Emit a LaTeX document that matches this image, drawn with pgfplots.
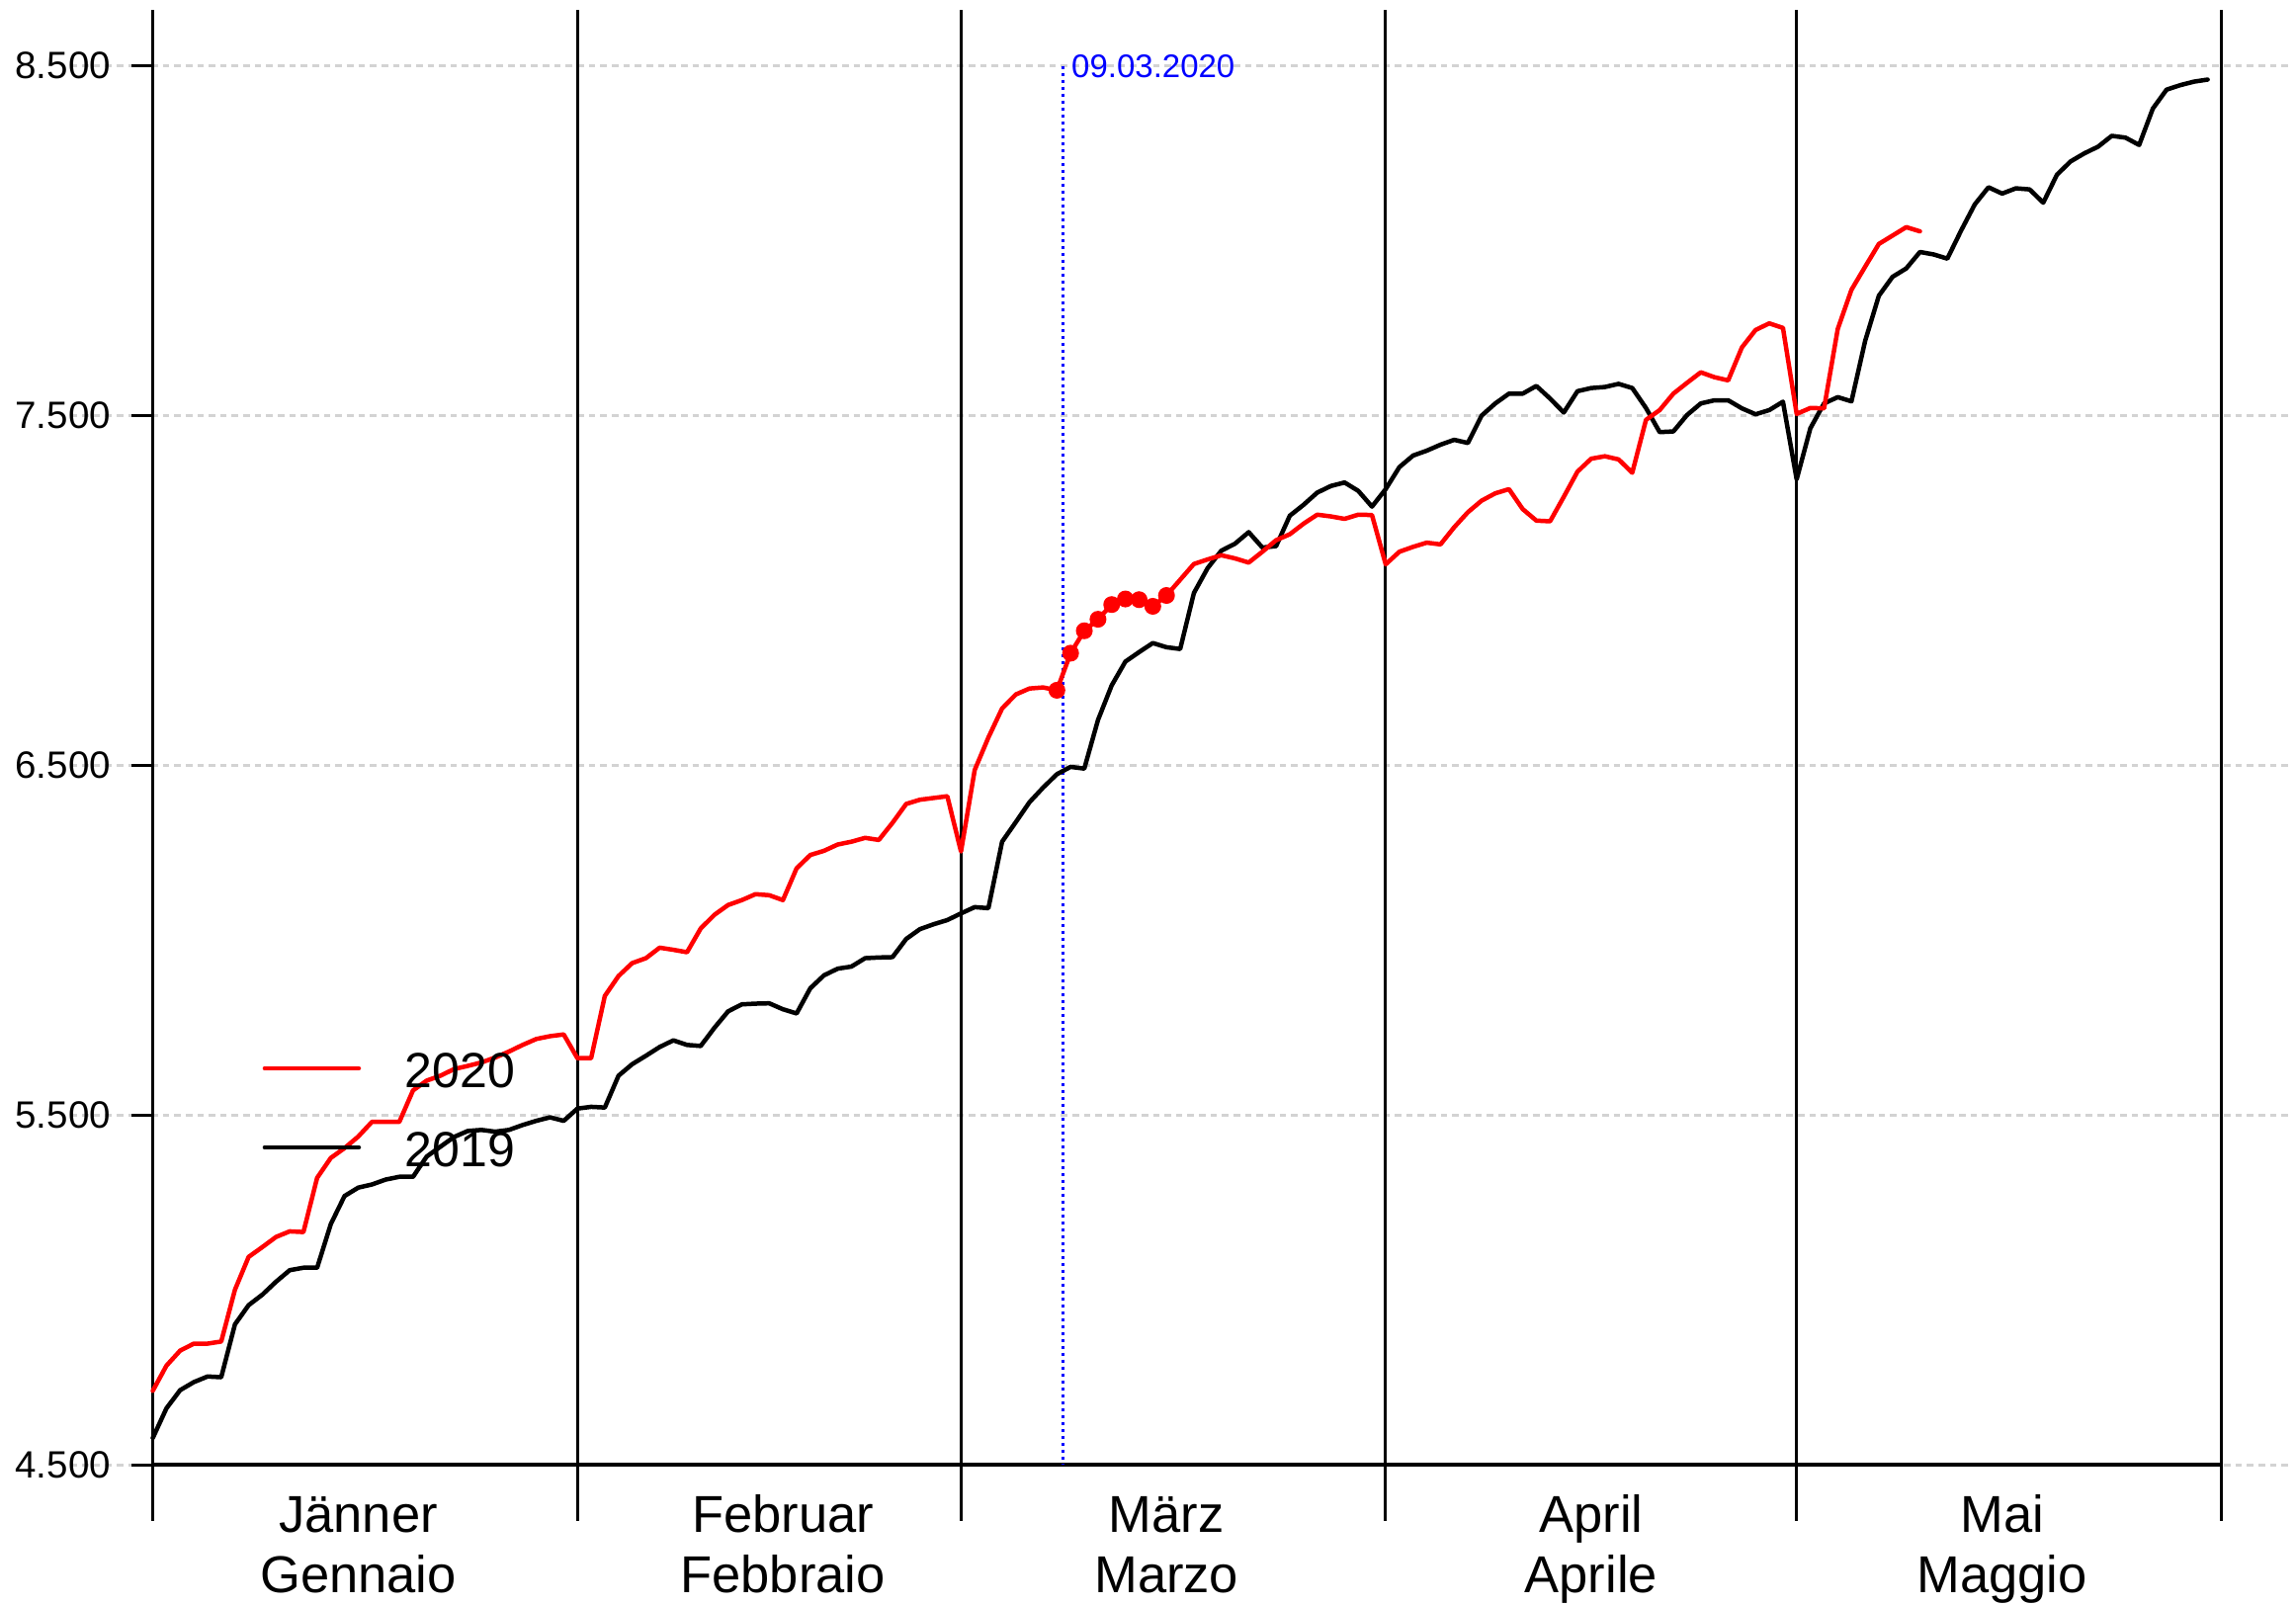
\documentclass[border=0pt]{standalone}
\usepackage{fontspec}
\setmainfont{Liberation Sans}
\usepackage{pgfplots}
\usepackage{pgfplotstable}
\pgfplotsset{compat=1.18}
\definecolor{gridgray}{RGB}{211,211,211}
\tikzset{
  mthsep/.style={black, line width=0.6pt},
  mlab/.style={anchor=base, inner sep=0pt, font=\fontsize{10.5}{12}\selectfont},
  gline/.style={gridgray, line width=0.5pt, dash pattern=on 1.33pt off 1pt},
  ytk/.style={black, line width=0.6pt},
}

\pgfplotstableread{
x y
0 4577
1 4662
2 4714
3 4737
4 4753
5 4751
6 4902
7 4957
8 4987
9 5024
10 5057
11 5064
12 5064
13 5189
14 5269
15 5293
16 5302
17 5316
18 5324
19 5324
20 5382
21 5410
22 5438
23 5455
24 5458
25 5453
26 5458
27 5472
28 5484
29 5494
30 5484
31 5519
32 5524
33 5522
34 5613
35 5646
36 5670
37 5695
38 5714
39 5701
40 5698
41 5750
42 5797
43 5817
44 5819
45 5820
46 5803
47 5791
48 5863
49 5900
50 5919
51 5925
52 5949
53 5951
54 5952
55 6004
56 6032
57 6046
58 6058
59 6077
60 6095
61 6092
62 6282
63 6338
64 6395
65 6437
66 6475
67 6496
68 6491
69 6630
70 6729
71 6797
72 6824
73 6850
74 6838
75 6833
76 6993
77 7064
78 7114
79 7134
80 7167
81 7123
82 7127
83 7214
84 7245
85 7280
86 7299
87 7309
88 7285
89 7240
90 7290
91 7353
92 7386
93 7400
94 7417
95 7431
96 7422
97 7500
98 7535
99 7563
100 7563
101 7585
102 7549
103 7509
104 7570
105 7579
106 7582
107 7591
108 7579
109 7522
110 7453
111 7455
112 7502
113 7535
114 7544
115 7544
116 7521
117 7504
118 7516
119 7540
120 7318
121 7464
122 7535
123 7553
124 7541
125 7714
126 7843
127 7897
128 7921
129 7968
130 7961
131 7949
132 8029
133 8104
134 8153
135 8135
136 8150
137 8147
138 8109
139 8189
140 8227
141 8250
142 8269
143 8300
144 8295
145 8274
146 8378
147 8432
148 8445
149 8455
150 8461
}\datanineteen

\pgfplotstableread{
x y
0 4712
1 4784
2 4827
3 4847
4 4847
5 4853
6 5001
7 5095
8 5123
9 5152
10 5168
11 5166
12 5321
13 5378
14 5406
15 5439
16 5481
17 5481
18 5481
19 5571
20 5599
21 5613
22 5632
23 5641
24 5651
25 5665
26 5682
27 5701
28 5718
29 5726
30 5731
31 5663
32 5663
33 5841
34 5898
35 5935
36 5949
37 5979
38 5973
39 5966
40 6034
41 6073
42 6101
43 6115
44 6132
45 6129
46 6115
47 6206
48 6244
49 6256
50 6274
51 6282
52 6293
53 6287
54 6336
55 6390
56 6402
57 6407
58 6412
59 6254
60 6487
61 6580
62 6663
63 6703
64 6720
65 6723
66 6715
67 6821
68 6885
69 6918
70 6960
71 6976
72 6974
73 6955
74 6986
75 7031
76 7076
77 7089
78 7101
79 7092
80 7080
81 7111
82 7144
83 7161
84 7191
85 7217
86 7212
87 7205
88 7217
89 7216
90 7075
91 7111
92 7125
93 7137
94 7132
95 7181
96 7224
97 7257
98 7278
99 7290
100 7233
101 7200
102 7198
103 7268
104 7340
105 7377
106 7384
107 7375
108 7337
109 7488
110 7516
111 7563
112 7594
113 7624
114 7610
115 7601
116 7695
117 7745
118 7764
119 7751
120 7505
121 7522
122 7521
123 7748
124 7860
125 7926
126 7991
127 8015
128 8039
129 8027
}\datatwenty

\pgfplotstableread{
x y
66 6715
67 6821
68 6885
69 6918
70 6960
71 6976
72 6974
73 6955
74 6986
}\datadots

\begin{document}
\begin{tikzpicture}
\begin{axis}[
  set layers,
  scale only axis,
  width=418.57pt, height=283.12pt,
  xmin=0, xmax=151, ymin=4500, ymax=8500,
  clip=false,
  axis line style={draw=none},
  xtick=\empty,
  ytick={4500,5500,6500,7500,8500},
  yticklabels={4.500,5.500,6.500,7.500,8.500},
  ytick pos=left,
  tick align=outside,
  major tick length=4.32pt,
  tick style={black, line width=0.6pt},
  yticklabel style={font=\fontsize{7.7}{9}\selectfont, inner sep=0pt, xshift=-4pt},
]
% bounding box
\path (axis cs:-11.15,4102.4) rectangle (axis cs:156.45,8688.5);
% grid (behind everything)
\begin{pgfonlayer}{axis background}
\draw[gline] (axis cs:-6,4500) -- (axis cs:156,4500);
\draw[gline] (axis cs:-6,5500) -- (axis cs:156,5500);
\draw[gline] (axis cs:-6,6500) -- (axis cs:156,6500);
\draw[gline] (axis cs:-6,7500) -- (axis cs:156,7500);
\draw[gline] (axis cs:-6,8500) -- (axis cs:156,8500);
\end{pgfonlayer}
% y ticks
\draw[ytk] (axis cs:0,4500) -- ++(-4.32pt,0pt);
\draw[ytk] (axis cs:0,5500) -- ++(-4.32pt,0pt);
\draw[ytk] (axis cs:0,6500) -- ++(-4.32pt,0pt);
\draw[ytk] (axis cs:0,7500) -- ++(-4.32pt,0pt);
\draw[ytk] (axis cs:0,8500) -- ++(-4.32pt,0pt);
% month separators and y axis
\draw[mthsep] (axis cs:0,4340) -- (axis cs:0,8660);
\draw[mthsep] (axis cs:31,4340) -- (axis cs:31,8660);
\draw[mthsep] (axis cs:59,4340) -- (axis cs:59,8660);
\draw[mthsep] (axis cs:90,4340) -- (axis cs:90,8660);
\draw[mthsep] (axis cs:120,4340) -- (axis cs:120,8660);
\draw[mthsep] (axis cs:151,4340) -- (axis cs:151,8660);
\draw[black, line width=0.8pt] (axis cs:0,4500) -- (axis cs:151,4500);
% event line
\draw[blue, line width=0.55pt, dash pattern=on 0.65pt off 0.75pt] (axis cs:66.45,8500) -- (axis cs:66.45,4500);
\node[anchor=base west, inner sep=0pt, text=blue, font=\fontsize{6.6}{8}\selectfont] at (axis cs:67.0,8467) {09.03.2020};

\addplot[black, line width=0.9pt, line join=round, line cap=round, no markers] table[x=x,y=y] {\datanineteen};
\addplot[red, line width=0.9pt, line join=round, line cap=round, no markers] table[x=x,y=y] {\datatwenty};
\addplot[red, only marks, mark=*, mark size=1.5pt, mark options={draw=red, fill=red}] table[x=x,y=y] {\datadots};

% legend
\draw[red, line width=0.9pt, line cap=round] (axis cs:8.18,5634) -- (axis cs:15.04,5634);
\node[anchor=base west, inner sep=0pt, font=\fontsize{10}{12}\selectfont] at (axis cs:18.35,5580) {2020};
\draw[black, line width=0.9pt, line cap=round] (axis cs:8.18,5408) -- (axis cs:15.04,5408);
\node[anchor=base west, inner sep=0pt, font=\fontsize{10}{12}\selectfont] at (axis cs:18.35,5353) {2019};

% month labels
\node[mlab] at (axis cs:15,4306.6) {Jänner};
\node[mlab] at (axis cs:15,4134) {Gennaio};
\node[mlab] at (axis cs:46,4306.6) {Februar};
\node[mlab] at (axis cs:46,4134) {Febbraio};
\node[mlab] at (axis cs:74,4306.6) {März};
\node[mlab] at (axis cs:74,4134) {Marzo};
\node[mlab] at (axis cs:105,4306.6) {April};
\node[mlab] at (axis cs:105,4134) {Aprile};
\node[mlab] at (axis cs:135,4306.6) {Mai};
\node[mlab] at (axis cs:135,4134) {Maggio};
\end{axis}
\end{tikzpicture}
\end{document}
